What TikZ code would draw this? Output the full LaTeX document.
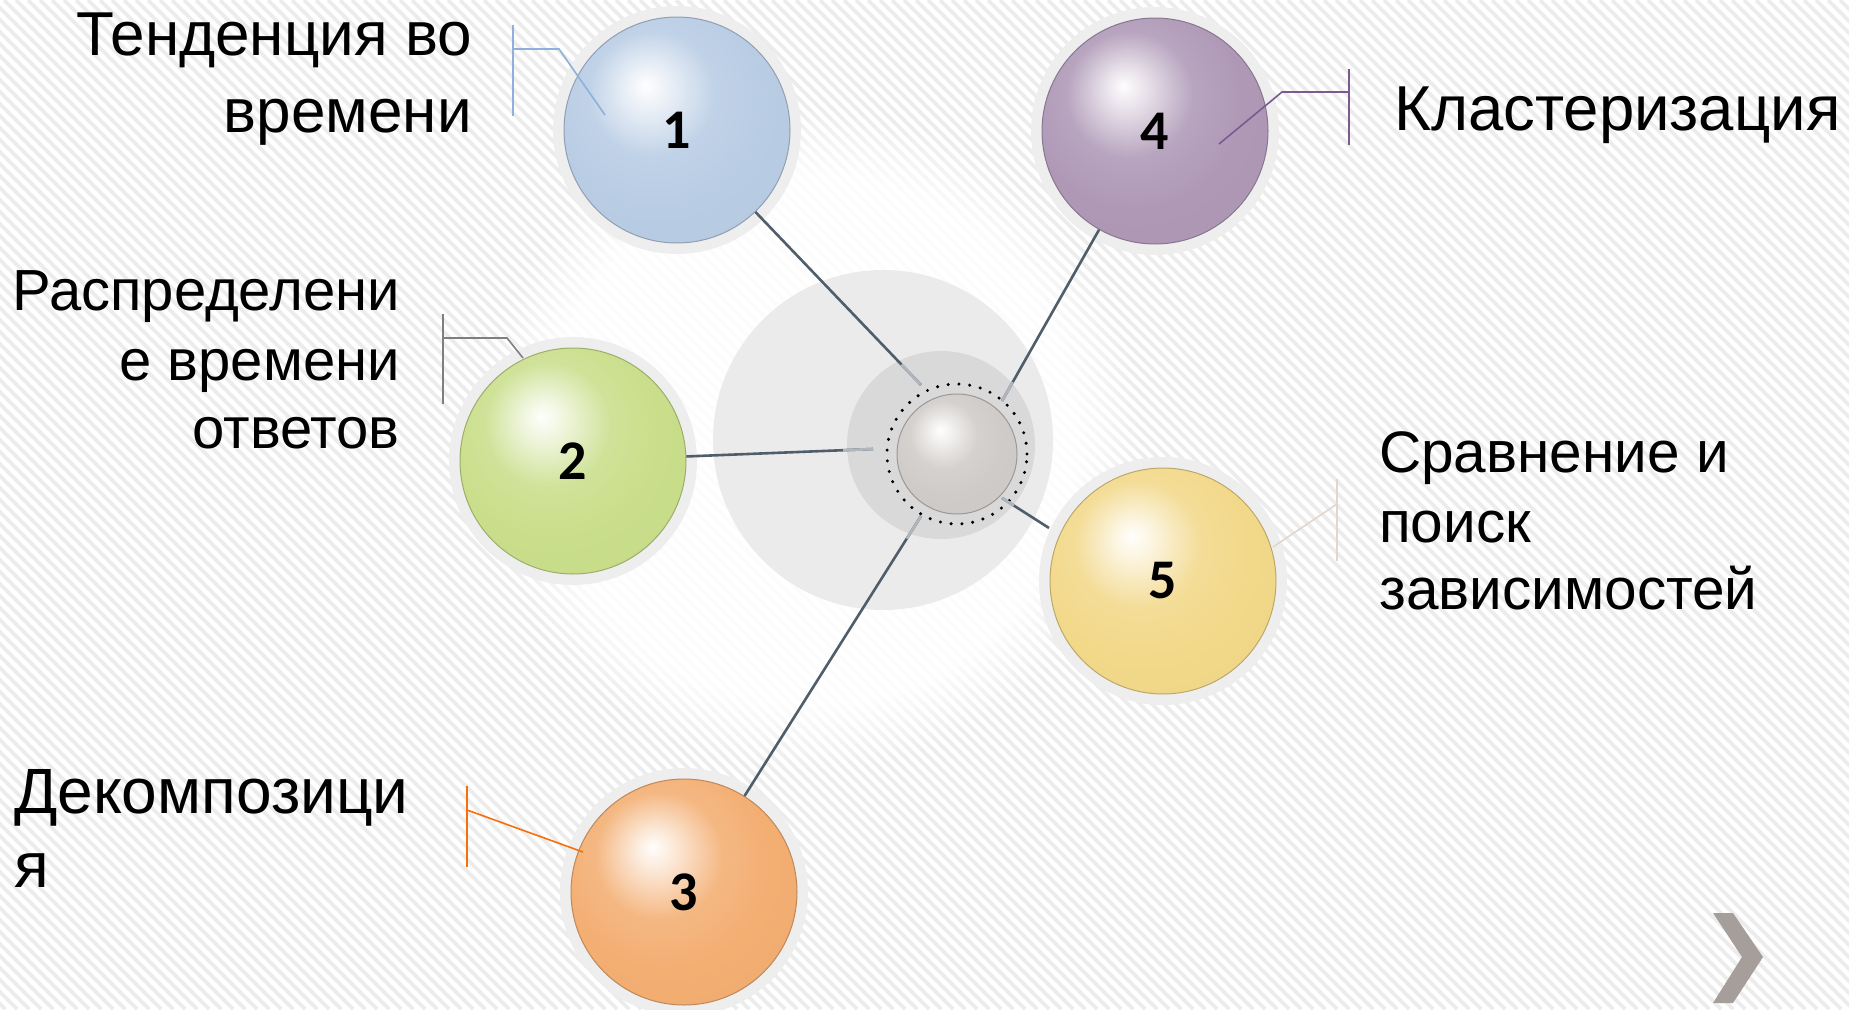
\documentclass[tikz,border=0pt]{standalone}
\usepackage{fontspec}
\setmainfont{Liberation Sans}
\newfontfamily\numfont{Carlito}
\usetikzlibrary{fadings,calc}
\definecolor{c1}{HTML}{B8CCE4}
\definecolor{c2}{HTML}{C9DE8A}
\definecolor{c3}{HTML}{F3AE72}
\definecolor{c4}{HTML}{AE98B6}
\definecolor{c5}{HTML}{F2D889}
\definecolor{c0}{HTML}{CFCBC8}
\definecolor{linec}{HTML}{505D6B}
\definecolor{haloc}{HTML}{EEEEEE}
\definecolor{stripec}{HTML}{ECECEC}
\definecolor{bgc}{HTML}{FFFFFF}
\definecolor{k1}{HTML}{8EB0DA}
\definecolor{k2}{HTML}{7F7F7F}
\definecolor{k3}{HTML}{FA6E0A}
\definecolor{k4}{HTML}{7B5A8E}
\definecolor{k5}{HTML}{E2D6CE}
\definecolor{chevc}{HTML}{A59E9B}
\colorlet{sphc}{c1}
\pgfdeclareradialshading[sphc]{sphshade}{\pgfpoint{-7bp}{10bp}}{%
 color(0bp)=(sphc!2!white); color(4bp)=(sphc!25!white); color(14bp)=(sphc!88!white);
 color(24bp)=(sphc); color(52bp)=(sphc!97!black); color(60bp)=(sphc!86!black); color(70bp)=(sphc!75!black)}
\tikzset{
  ballnode/.style={circle, inner sep=0pt, minimum size=226pt, shade, shading=sphshade,
    /utils/exec={\colorlet{sphc}{#1}}, draw=#1!78!black, line width=1pt,
    preaction={draw=haloc, line width=22pt}, text=black,
    font=\numfont\bfseries\fontsize{56}{64}\selectfont},
  midball/.style={circle, inner sep=0pt, minimum size=120pt, shade, shading=sphshade,
    /utils/exec={\colorlet{sphc}{c0}}, draw=c0!75!black, line width=1pt},
  conn/.style={draw=linec, line width=2.6pt},
  connend/.style={draw=linec!45!white, line width=2.6pt},
  callout/.style={line width=1.6pt},
  lbl/.style={inner sep=0pt, font=\fontsize{#1}{#1}\selectfont},
}
\begin{document}
\begin{tikzpicture}[x=1pt,y=-1pt]
\useasboundingbox (0,0) rectangle (1849,1009);
% background
\begin{scope}
\clip (0,0) rectangle (1849,1009);
\fill[bgc] (0,0) rectangle (1849,1009);
\foreach \i in {-1100,-1088,...,1860} \draw[stripec, line width=3.6pt] (\i,0) -- ++(1009,1009);
\fill[white, opacity=0.85, path fading=circle with fuzzy edge 20 percent] (810,440) circle (330pt);
\end{scope}
% centre rings
\fill[fill=black!8] (883,440) circle (170pt);
\fill[fill=black!15] (941,445) circle (94pt);
\draw[black, line width=3.4pt, line cap=round, dash pattern=on 0pt off 10.8pt] (957,454) circle (70pt);
% connector end points
\coordinate (e1) at (921,385);
\coordinate (e2) at (873,449);
\coordinate (e3) at (921,516);
\coordinate (e4) at (1002,401);
\coordinate (e5) at (1002,498);
\coordinate (f5) at (1049,528);
% spheres
\node[ballnode=c1] (s1) at (677,130) {1};
\node[ballnode=c2] (s2) at (573,461) {2};
\node[ballnode=c3] (s3) at (684,892) {3};
\node[ballnode=c4] (s4) at (1155,131) {4};
\node[ballnode=c5] (s5) at (1163,581) {5};
\node[midball] (c) at (957,454) {};
% connectors
\draw[conn] (s1) -- (e1);
\draw[conn] (s2) -- (e2);
\draw[conn] (s3) -- (e3);
\draw[conn] (s4) -- (e4);
\draw[conn] (e5) -- (f5);
\draw[connend] ($(s1)!0.92!(e1)$) -- (e1);
\draw[connend] ($(s2)!0.90!(e2)$) -- (e2);
\draw[connend] ($(s3)!0.94!(e3)$) -- (e3);
\draw[connend] ($(s4)!0.93!(e4)$) -- (e4);
\draw[connend] (e5) -- ($(e5)!0.25!(f5)$);
% callouts
\coordinate (a1) at (605,115); \coordinate (b1) at (559,49); \coordinate (g1) at (513,49);
\coordinate (u1) at (513,25); \coordinate (v1) at (513,116);
\draw[callout, k1] (a1) -- (b1) -- (g1); \draw[callout, k1] (u1) -- (v1);
\coordinate (a2) at (523,358); \coordinate (b2) at (507,338); \coordinate (g2) at (443,338);
\coordinate (u2) at (443,314); \coordinate (v2) at (443,404);
\draw[callout, k2] (a2) -- (b2) -- (g2); \draw[callout, k2] (u2) -- (v2);
\coordinate (a3) at (583,852); \coordinate (g3) at (467,810);
\coordinate (u3) at (467,786); \coordinate (v3) at (467,867);
\draw[callout, k3] (a3) -- (g3); \draw[callout, k3] (u3) -- (v3);
\coordinate (a4) at (1219,144); \coordinate (b4) at (1282,92); \coordinate (g4) at (1349,92);
\coordinate (u4) at (1349,69); \coordinate (v4) at (1349,145);
\draw[callout, k4] (a4) -- (b4) -- (g4); \draw[callout, k4] (u4) -- (v4);
\coordinate (a5) at (1273,547); \coordinate (g5) at (1337,504);
\coordinate (u5) at (1337,479); \coordinate (v5) at (1337,561);
\draw[callout, k5] (a5) -- (g5); \draw[callout, k5] (u5) -- (v5);
% labels
\node[lbl=62, anchor=base east] (t1a) at (472,55) {Тенденция во};
\node[lbl=62, anchor=base east] (t1b) at (472,132) {времени};
\node[lbl=58, anchor=base east] (t2a) at (400,310) {Распределени};
\node[lbl=58, anchor=base east] (t2b) at (400,380) {е времени};
\node[lbl=58, anchor=base east] (t2c) at (400,448) {ответов};
\node[lbl=64, anchor=base west] (t3a) at (14,813) {Декомпозици};
\node[lbl=64, anchor=base west] (t3b) at (14,887) {я};
\node[lbl=63.5, anchor=base west] (t4a) at (1394,130) {Кластеризация};
\node[lbl=58.5, anchor=base west] (t5a) at (1379,472) {Сравнение и};
\node[lbl=58.5, anchor=base west] (t5b) at (1379,542) {поиск};
\node[lbl=58.5, anchor=base west] (t5c) at (1379,609) {зависимостей};
% chevron
\fill[chevc] (1713,913) -- (1733,913) -- (1763,957) -- (1733,1003) -- (1713,1003) -- (1742,957) -- cycle;
\end{tikzpicture}
\end{document}
